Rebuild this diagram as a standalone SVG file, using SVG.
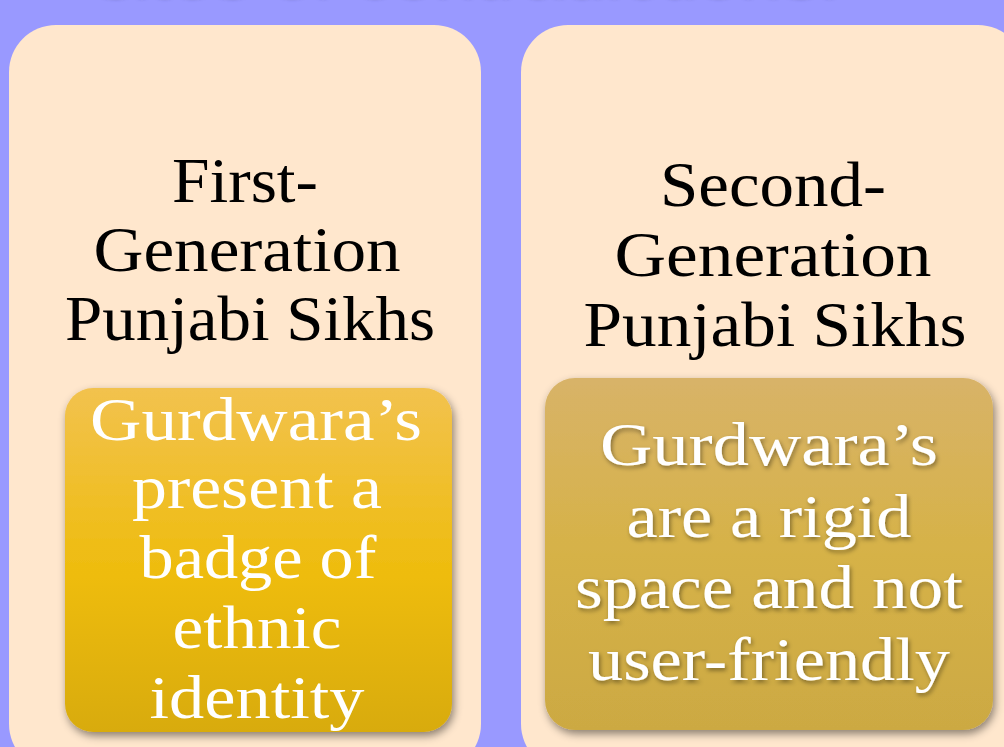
<svg xmlns="http://www.w3.org/2000/svg" width="1004" height="747" viewBox="0 0 1004 747">
<style>
.hdr{font-family:"Liberation Serif","Times New Roman",serif;font-size:64px;fill:#000;text-anchor:middle}
.box{font-family:"Liberation Serif","Times New Roman",serif;font-size:62px;fill:#fff;text-anchor:middle}
.panel{fill:#FFE7CD}
</style>
<defs>
<linearGradient id="g1" x1="0" y1="0" x2="0" y2="1">
<stop offset="0" stop-color="#F2C24E"/>
<stop offset="0.55" stop-color="#EEBC0C"/>
<stop offset="1" stop-color="#D8AB0A"/>
</linearGradient>
<linearGradient id="g2" x1="0" y1="0" x2="0" y2="1">
<stop offset="0" stop-color="#D8B368"/>
<stop offset="0.5" stop-color="#D6B247"/>
<stop offset="1" stop-color="#CCA943"/>
</linearGradient>
<filter id="sh" x="-10%" y="-10%" width="125%" height="125%">
<feDropShadow dx="2" dy="4" stdDeviation="4" flood-color="#000" flood-opacity="0.45"/>
</filter>
<filter id="tsh" x="-5%" y="-5%" width="115%" height="120%">
<feDropShadow dx="1.5" dy="2.5" stdDeviation="2" flood-color="#000" flood-opacity="0.4"/>
</filter>
<filter id="blur" x="-5%" y="-50%" width="110%" height="200%">
<feGaussianBlur stdDeviation="2"/>
</filter>
</defs>
<rect x="0" y="0" width="1004" height="747" fill="#9999FF"/>
<g id="title">
<text x="468" y="-3" font-family="'Liberation Sans',Arial,sans-serif" font-size="60" fill="#404070" text-anchor="middle" textLength="744" lengthAdjust="spacingAndGlyphs" filter="url(#blur)">sites of contradictions.</text>
</g>
<g id="panel-first">
<rect class="panel" x="9" y="25" width="472" height="746" rx="47" ry="47"/>
<text class="hdr" x="245" y="202" textLength="146" lengthAdjust="spacingAndGlyphs">First-</text>
<text class="hdr" x="247" y="271" textLength="307" lengthAdjust="spacingAndGlyphs">Generation</text>
<text class="hdr" x="250" y="340" textLength="370" lengthAdjust="spacingAndGlyphs">Punjabi Sikhs</text>
</g>
<g id="panel-second">
<rect class="panel" x="521" y="25" width="504" height="746" rx="47" ry="47"/>
<text class="hdr" x="773" y="206" textLength="226" lengthAdjust="spacingAndGlyphs">Second-</text>
<text class="hdr" x="773" y="276" textLength="317" lengthAdjust="spacingAndGlyphs">Generation</text>
<text class="hdr" x="775" y="346" textLength="383" lengthAdjust="spacingAndGlyphs">Punjabi Sikhs</text>
</g>
<g id="box-first">
<rect x="65" y="388" width="387" height="344" rx="28" ry="28" fill="url(#g1)" filter="url(#sh)"/>
<text class="box" x="256" y="440" textLength="332" lengthAdjust="spacingAndGlyphs">Gurdwara’s</text>
<text class="box" x="257" y="508" textLength="250" lengthAdjust="spacingAndGlyphs">present a</text>
<text class="box" x="258" y="578" textLength="237" lengthAdjust="spacingAndGlyphs">badge of</text>
<text class="box" x="257" y="648" textLength="169" lengthAdjust="spacingAndGlyphs">ethnic</text>
<text class="box" x="257" y="718" textLength="215" lengthAdjust="spacingAndGlyphs">identity</text>
</g>
<g id="box-second">
<rect x="545" y="378" width="448" height="352" rx="30" ry="30" fill="url(#g2)" filter="url(#sh)"/>
<g filter="url(#tsh)">
<text class="box" x="769" y="465" textLength="338" lengthAdjust="spacingAndGlyphs">Gurdwara’s</text>
<text class="box" x="769" y="537" textLength="285" lengthAdjust="spacingAndGlyphs">are a rigid</text>
<text class="box" x="769" y="608" textLength="388" lengthAdjust="spacingAndGlyphs">space and not</text>
<text class="box" x="769" y="680" textLength="362" lengthAdjust="spacingAndGlyphs">user-friendly</text>
</g>
</g>
<g id="connectors"/>
</svg>
